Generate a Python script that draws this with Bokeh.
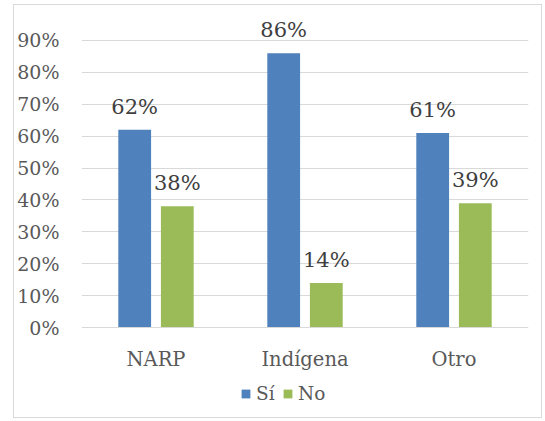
from bokeh.plotting import figure
from bokeh.models import ColumnDataSource, FactorRange, Range1d, FixedTicker, NumeralTickFormatter, Legend, LegendItem
from bokeh.transform import dodge
from bokeh.core.properties import value
from bokeh.embed import file_html
from bokeh.resources import INLINE

categories = ["NARP", "Indígena", "Otro"]
si_values = [0.62, 0.86, 0.61]
no_values = [0.38, 0.14, 0.39]
y_ticks = [0, 0.1, 0.2, 0.3, 0.4, 0.5, 0.6, 0.7, 0.8, 0.9]

src = ColumnDataSource(dict(
    cat=categories, si=si_values, no=no_values,
    si_lbl=[f"{round(v*100)}%" for v in si_values],
    no_lbl=[f"{round(v*100)}%" for v in no_values],
))

FONT = "DejaVu Serif"
p = figure(x_range=FactorRange(*categories, range_padding=0), y_range=Range1d(-0.288, 1.0),
           width=529, height=414, output_backend="svg", toolbar_location=None,
           min_border_left=62, min_border_right=15, min_border_top=3, min_border_bottom=0)
p.styles = {"border": "1px solid #d9d9d9", "margin-left": "13px", "margin-top": "4px"}
p.outline_line_color = None

b1 = p.vbar(x=dodge("cat", -0.143, range=p.x_range), top="si", width=0.22, source=src,
            fill_color="#4F81BD", line_color=None)
b2 = p.vbar(x=dodge("cat", 0.143, range=p.x_range), top="no", width=0.22, source=src,
            fill_color="#9BBB59", line_color=None)

for col, off in (("si", -0.143), ("no", 0.143)):
    p.text(x=dodge("cat", off, range=p.x_range), y=col, text=col + "_lbl", source=src,
           text_align="center", text_baseline="middle", y_offset=-23,
           text_font=value(FONT), text_font_size="21px", text_color="#404040")

p.yaxis.ticker = FixedTicker(ticks=y_ticks)
p.yaxis.formatter = NumeralTickFormatter(format="0%")
p.yaxis.axis_line_color = None
p.yaxis.major_tick_line_color = None
p.yaxis.minor_tick_line_color = None
p.yaxis.major_label_standoff = 16
p.yaxis.major_label_text_font = FONT
p.yaxis.major_label_text_font_size = "19px"
p.yaxis.major_label_text_color = "#595959"

p.xaxis.fixed_location = 0
p.xaxis.axis_line_color = "#d9d9d9"
p.xaxis.major_tick_line_color = None
p.xaxis.minor_tick_line_color = None
p.xaxis.major_label_standoff = 14
p.xaxis.major_label_text_font = FONT
p.xaxis.major_label_text_font_size = "19.5px"
p.xaxis.major_label_text_color = "#595959"

p.xgrid.grid_line_color = None
p.ygrid.grid_line_color = "#d9d9d9"
p.ygrid.ticker = FixedTicker(ticks=y_ticks[1:])

legend = Legend(items=[LegendItem(label="Sí", renderers=[b1]), LegendItem(label="No", renderers=[b2])],
                orientation="horizontal", location=(159, 15), border_line_color=None,
                background_fill_alpha=0,
                label_text_font=FONT, label_text_font_size="18.5px", label_text_color="#595959",
                glyph_width=11, glyph_height=11, label_standoff=5, spacing=6, padding=4, margin=0)
p.add_layout(legend)

open("out.html", "w").write(file_html(p, INLINE))
